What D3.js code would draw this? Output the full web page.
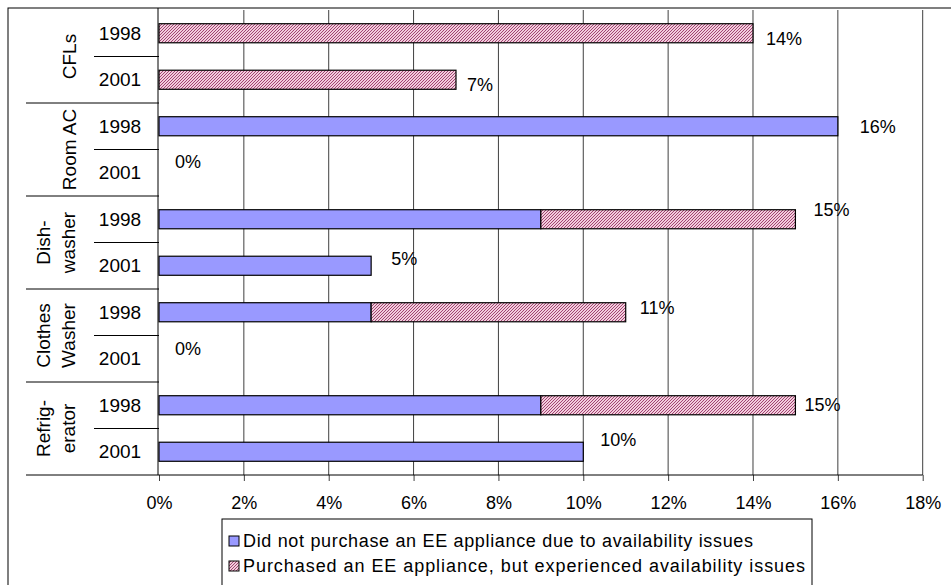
<!DOCTYPE html>
<html>
<head>
<meta charset="utf-8">
<script src="https://cdn.jsdelivr.net/npm/d3@7"></script>
<style>
  html, body { margin: 0; padding: 0; background: #fff; }
  svg { display: block; font-family: "Liberation Sans", Arial, sans-serif; }
</style>
</head>
<body>
<svg id="chart" width="951" height="585"></svg>
<script>
// Appliance groups (multi-line names) and survey years
const categories = [["CFLs"], ["Room AC"], ["Dish-", "washer"], ["Clothes", "Washer"], ["Refrig-", "erator"]];
const years = ["1998", "2001"];

// Percent of respondents, one value per group/year row (1998 then 2001)
const didNotPurchase = [0, 0, 16, 0, 9, 5, 5, 0, 9, 10];
const purchasedWithIssues = [14, 7, 0, 0, 6, 0, 6, 0, 6, 0];

const xTicks = [0, 2, 4, 6, 8, 10, 12, 14, 16, 18];
const seriesNames = [
  "Did not purchase an EE appliance due to availability issues",
  "Purchased an EE appliance, but experienced availability issues"
];

// Small hand nudges for the total labels (dx, dy in px)
const labelDx = [13, 11, 22, 16, 18, 20, 14, 16, 9, 17];
const labelDy = [5, 5, 0, -11, -10, -7, -5, -10, -1, -12];

const svg = d3.select("#chart");
const W = 951, H = 585;
const FONT = 18;

const plot = { left: 159, right: 922.7, top: 10, bottom: 475 };

const rows = [];
categories.forEach((c, ci) => years.forEach((y, yi) => {
  const i = ci * years.length + yi;
  rows.push({ id: i, cat: ci, year: y, a: didNotPurchase[i], b: purchasedWithIssues[i] });
}));

const x = d3.scaleLinear().domain([0, 18]).range([plot.left, plot.right]);
const y = d3.scaleBand().domain(rows.map(r => r.id)).range([plot.top, plot.bottom])
  .paddingInner(0.59).paddingOuter(0.295);
const step = y.step();

// Hatch pattern for the second series
const defs = svg.append("defs");
const pat = defs.append("pattern").attr("id", "hatch")
  .attr("patternUnits", "userSpaceOnUse").attr("width", 3).attr("height", 3);
pat.append("rect").attr("width", 3).attr("height", 3).attr("fill", "#f2cddc");
pat.append("path").attr("d", "M-1,1 l2,-2 M0,3 l3,-3 M2,4 l2,-2")
  .attr("stroke", "#993366").attr("stroke-width", 0.9);

// Outer chart frame (continues past the visible area)
svg.append("rect").attr("x", 8).attr("y", 8).attr("width", W + 20).attr("height", H + 20)
  .attr("fill", "none").attr("stroke", "#000").attr("stroke-width", 1);

// Vertical gridlines
svg.append("g").selectAll("line").data(xTicks.slice(1)).join("line")
  .attr("x1", d => x(d)).attr("x2", d => x(d))
  .attr("y1", plot.top).attr("y2", plot.bottom)
  .attr("stroke", "#000").attr("stroke-width", 1).attr("opacity", 0.75);

// Bars: first series then stacked second series
const bars = svg.append("g");
bars.selectAll("rect.a").data(rows.filter(r => r.a > 0)).join("rect")
  .attr("class", "a")
  .attr("x", d => x(0)).attr("y", d => y(d.id))
  .attr("width", d => x(d.a) - x(0)).attr("height", y.bandwidth())
  .attr("fill", "#9999ff").attr("stroke", "#000").attr("stroke-width", 1.2);
bars.selectAll("rect.b").data(rows.filter(r => r.b > 0)).join("rect")
  .attr("class", "b")
  .attr("x", d => x(d.a)).attr("y", d => y(d.id))
  .attr("width", d => x(d.a + d.b) - x(d.a)).attr("height", y.bandwidth())
  .attr("fill", "url(#hatch)").attr("stroke", "#000").attr("stroke-width", 1.2);

// Total labels
svg.append("g").selectAll("text").data(rows).join("text")
  .attr("x", d => x(d.a + d.b) + labelDx[d.id])
  .attr("y", d => y(d.id) + y.bandwidth() / 2 + labelDy[d.id])
  .attr("dy", "0.35em")
  .attr("font-size", FONT).attr("fill", "#000")
  .text(d => (d.a + d.b) + "%");

// X axis
const xAxis = d3.axisBottom(x).tickValues(xTicks).tickFormat(d => d + "%")
  .tickSize(6).tickPadding(15);
const gx = svg.append("g").attr("transform", `translate(0,${plot.bottom})`).call(xAxis);
gx.select(".domain").remove();
gx.selectAll(".tick line").attr("stroke", "#000").attr("opacity", 0.75);
gx.selectAll(".tick text").attr("font-size", FONT).attr("font-family", "Liberation Sans, Arial, sans-serif").attr("fill", "#000");
svg.append("line").attr("x1", 26).attr("x2", plot.right).attr("y1", plot.bottom).attr("y2", plot.bottom)
  .attr("stroke", "#000").attr("stroke-width", 1);

// Category axis: left edge, separators, year labels and group labels
const cat = svg.append("g");
cat.append("line").attr("x1", plot.left - 1).attr("x2", plot.left - 1)
  .attr("y1", plot.top - 2).attr("y2", plot.bottom)
  .attr("stroke", "#000").attr("stroke-width", 1);
// separators between years inside a group
cat.selectAll("line.yr").data(categories.map((c, i) => i)).join("line").attr("class", "yr")
  .attr("x1", 94).attr("x2", plot.left)
  .attr("y1", i => plot.top + step * (i * 2 + 1)).attr("y2", i => plot.top + step * (i * 2 + 1))
  .attr("stroke", "#000");
// separators between groups
cat.selectAll("line.grp").data(d3.range(1, categories.length)).join("line").attr("class", "grp")
  .attr("x1", 26).attr("x2", plot.left)
  .attr("y1", i => plot.top + step * i * 2).attr("y2", i => plot.top + step * i * 2)
  .attr("stroke", "#000");
cat.selectAll("text.yr").data(rows).join("text").attr("class", "yr")
  .attr("x", 120).attr("y", d => y(d.id) + y.bandwidth() / 2)
  .attr("dy", "0.35em").attr("text-anchor", "middle")
  .attr("font-size", 19).text(d => d.year);
categories.forEach((lines, i) => {
  const cy = plot.top + step * (i * 2 + 1);
  const xs = lines.length === 1 ? [69] : [43, 68];
  lines.forEach((t, k) => {
    cat.append("text")
      .attr("transform", `translate(${xs[k]},${cy}) rotate(-90)`)
      .attr("text-anchor", "middle").attr("dy", "0.35em")
      .attr("font-size", 19).text(t);
  });
});

// Legend
const lg = svg.append("g");
lg.append("rect").attr("x", 222).attr("y", 519).attr("width", 590).attr("height", 100)
  .attr("fill", "#fff").attr("stroke", "#000");
const fills = ["#9999ff", "url(#hatch)"];
const legendWidths = [510, 562];
seriesNames.forEach((name, i) => {
  const cy = 541 + i * 25;
  lg.append("rect").attr("x", 229).attr("y", cy - 5).attr("width", 10).attr("height", 10)
    .attr("fill", fills[i]).attr("stroke", "#000");
  lg.append("text").attr("x", 243).attr("y", cy).attr("dy", "0.35em")
    .attr("font-size", FONT)
    .attr("textLength", legendWidths[i]).attr("lengthAdjust", "spacing")
    .text(name);
});
</script>
</body>
</html>
